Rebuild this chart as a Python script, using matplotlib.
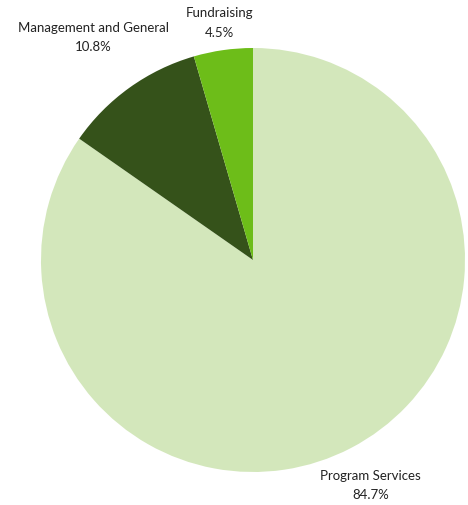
import numpy as np
import matplotlib.pyplot as plt

plt.rcParams['font.family'] = ['Lato', 'DejaVu Sans']

categories = ['Program Services', 'Management and General', 'Fundraising']
values = [84.7, 10.8, 4.5]
pct_labels = ['84.7%', '10.8%', '4.5%']
colors = ['#d3e7bb', '#35521a', '#6dbd19']
label_dist = [1.2, 1.29, 1.13]

fig = plt.figure(figsize=(4.68, 5.05), dpi=100)
ax = fig.add_axes([41 / 468, 33 / 505, 424 / 468, 424 / 505])

wedges, _ = ax.pie(values, colors=colors, startangle=90, counterclock=False,
                   radius=1, wedgeprops=dict(linewidth=0))

for w, name, pct, d in zip(wedges, categories, pct_labels, label_dist):
    mid = np.deg2rad((w.theta1 + w.theta2) / 2)
    ax.text(d * np.cos(mid), d * np.sin(mid), name + '\n' + pct,
            ha='center', va='center', fontsize=9.5, color='#222222',
            linespacing=1.75)

ax.set_xlim(-1, 1)
ax.set_ylim(-1, 1)
ax.set_aspect('equal')
ax.axis('off')

fig.savefig('out.png', dpi=100)
